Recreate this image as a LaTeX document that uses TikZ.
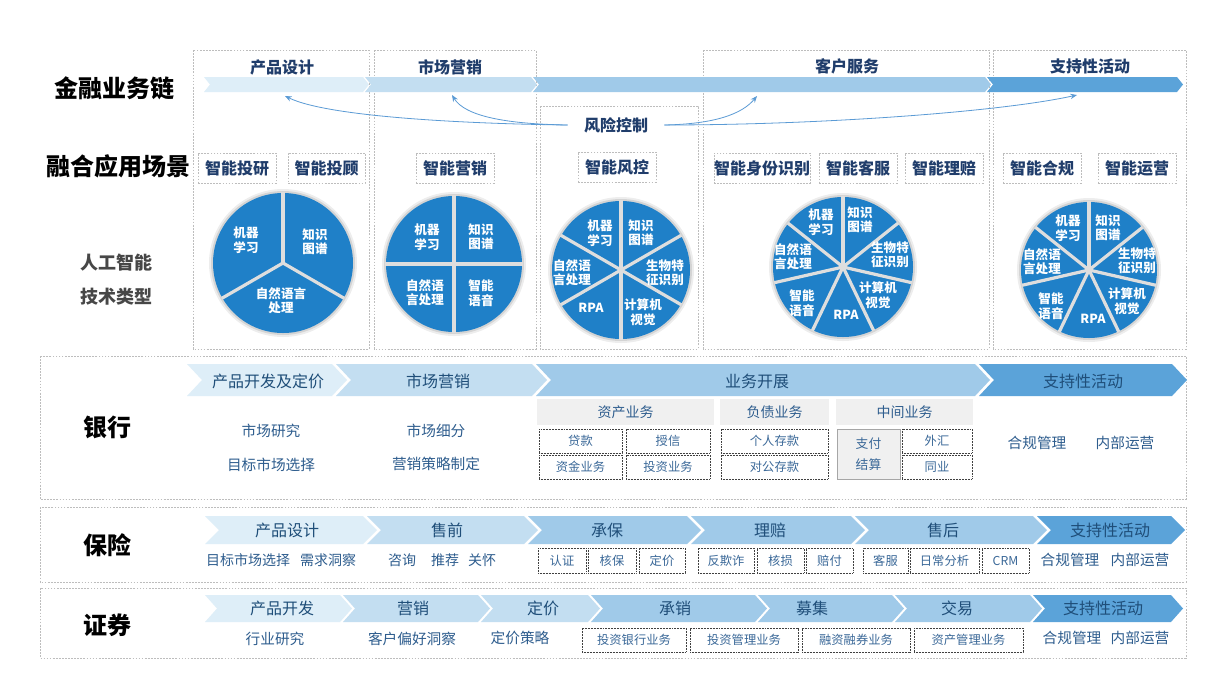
\documentclass[tikz,border=0pt]{standalone}
\usepackage{fontspec}
\setmainfont{Noto Sans CJK SC}
\usetikzlibrary{arrows.meta}
\definecolor{navy}{HTML}{203D6B}
\definecolor{lab}{HTML}{1F4E79}
\definecolor{subt}{HTML}{2E5D8E}
\definecolor{boxt}{HTML}{3A6898}
\definecolor{pieblue}{HTML}{1F80C8}
\definecolor{arr}{HTML}{5B9BD5}
\definecolor{ca}{HTML}{DEEEF8}
\definecolor{cb}{HTML}{C3DEF1}
\definecolor{cc}{HTML}{A0CAE9}
\definecolor{cd}{HTML}{5BA3D9}
\definecolor{dashg}{HTML}{BDBDBD}
\newcommand{\chev}[6]{\fill[#6] (#1,#3) -- ({#2-#5},#3) -- (#2,{(#3+#4)/2}) -- ({#2-#5},#4) -- (#1,#4) -- ({#1+#5},{(#3+#4)/2}) -- cycle;}
\newcommand{\rbox}[7]{\node[#2, minimum width={(#5-#3)*0.75pt}, minimum height={(#6-#4)*0.75pt}] (#1) at ({(#3+#5)/2},{(#4+#6)/2}) {#7};}
\newcommand{\piechart}[4]{%
  \begin{scope}[shift={(#1,#2)}]
    \fill[black,opacity=0.07] (0,0) circle ({#3+4});
    \fill[black,opacity=0.10] (0,0) circle ({#3+2});
    \fill[pieblue] (0,0) circle (#3);
    \foreach \a in {#4} \draw[sep] (0,0) -- ({-\a}:{#3+0.6});
  \end{scope}}
\begin{document}
\begin{tikzpicture}[x=0.75pt,y=-0.75pt,
  biglab/.style={font=\fontsize{18}{20}\selectfont\bfseries, text=black},
  ailab/.style={font=\fontsize{13.5}{16}\selectfont\bfseries, text=black!72},
  toplab/.style={font=\fontsize{12}{14}\selectfont\bfseries, text=navy},
  colbox/.style={draw=dashg, dash pattern=on 1.3pt off 1pt, line width=0.5pt},
  scen/.style={draw=dashg, dash pattern=on 1.3pt off 1pt, line width=0.5pt, fill=white, inner sep=0pt, font=\fontsize{12}{14}\selectfont\bfseries, text=navy},
  sep/.style={draw=black!13, line width=2.4pt},
  pielab/.style={font=\fontsize{9.4}{10.8}\selectfont\bfseries, text=white, align=center, inner sep=0pt},
  rarr/.style={draw=arr, line width=0.6pt, -{Stealth[length=5pt,width=4pt]}},
  secbox/.style={draw=dashg, dash pattern=on 1.3pt off 1pt, line width=0.5pt},
  seclab/.style={font=\fontsize{18}{20}\selectfont\bfseries, text=black},
  chevlab/.style={font=\fontsize{12}{14}\selectfont, text=lab},
  sublab/.style={font=\fontsize{11}{13}\selectfont, text=subt},
  isub/.style={font=\fontsize{10.5}{12}\selectfont, text=subt},
  hdr/.style={fill=black!6, inner sep=0pt, font=\fontsize{10.5}{12}\selectfont, text=subt},
  dbox/.style={draw=black!75, dash pattern=on 0.7pt off 0.45pt, line width=0.7pt, fill=white, inner sep=0pt, font=\fontsize{9.2}{11}\selectfont, text=boxt},
  paybox/.style={draw=black!35, line width=0.6pt, fill=black!6, inner sep=0pt, align=center, font=\fontsize{9.6}{15.5}\selectfont, text=boxt}
]
\useasboundingbox (0,0) rectangle (1229,683);
\fill[white] (0,0) rectangle (1229,683);

% ---------- top part ----------
\node[biglab] (jr) at (115,88) {金融业务链};
\node[biglab] (rh) at (118,166) {融合应用场景};
\node[ailab] (ai1) at (116,263) {人工智能};
\node[ailab] (ai2) at (116,297) {技术类型};

\draw[colbox] (193,50) rectangle (369,349);
\draw[colbox] (374,50) rectangle (536,349);
\draw[colbox] (540,106) rectangle (698,349);
\draw[colbox] (703,50) rectangle (989,349);
\draw[colbox] (993,50) rectangle (1186,349);

\chev{204}{369}{77}{92}{6}{ca}
\chev{365}{537}{77}{92}{6}{cb}
\chev{533}{991}{77}{92}{6}{cc}
\chev{987}{1183}{77}{92}{6}{cd}

\node[toplab] (h1) at (282,67) {产品设计};
\node[toplab] (h2) at (450,67) {市场营销};
\node[toplab] (h3) at (847,66) {客户服务};
\node[toplab] (h4) at (1090,66) {支持性活动};

\node[toplab, inner xsep=12pt] (rc) at (616,125) {风险控制};
\coordinate (t1) at (285,96);
\coordinate (t2) at (452,95);
\coordinate (t3) at (757,96);
\coordinate (t4) at (1077,95);
\draw[rarr] (rc.west) .. controls (480,124) and (330,118) .. (t1);
\draw[rarr] (rc.west) .. controls (505,124) and (465,116) .. (t2);
\draw[rarr] (rc.east) .. controls (715,124) and (742,114) .. (t3);
\draw[rarr] (rc.east) .. controls (820,125) and (1000,112) .. (t4);

\rbox{s1}{scen}{198}{153}{276}{183}{智能投研}
\rbox{s2}{scen}{288}{153}{365}{183}{智能投顾}
\rbox{s3}{scen}{416}{153}{494}{183}{智能营销}
\rbox{s4}{scen}{578}{152}{656}{182}{智能风控}
\rbox{s5}{scen}{714}{153}{810}{183}{智能身份识别}
\rbox{s6}{scen}{819}{153}{897}{183}{智能客服}
\rbox{s7}{scen}{905}{153}{983}{183}{智能理赔}
\rbox{s8}{scen}{1003}{153}{1081}{183}{智能合规}
\rbox{s9}{scen}{1098}{153}{1176}{183}{智能运营}

% pies
\piechart{283}{263}{70}{90,210,330}
\node[pielab] (p1a) at (246,240) {机器\\学习};
\node[pielab] (p1b) at (315,242) {知识\\图谱};
\node[pielab] (p1c) at (281,301) {自然语言\\处理};

\piechart{454}{264}{68}{0,90,180,270}
\node[pielab] (p2a) at (427,237) {机器\\学习};
\node[pielab] (p2b) at (481,237) {知识\\图谱};
\node[pielab] (p2c) at (425,293) {自然语\\言处理};
\node[pielab] (p2d) at (481,293) {智能\\语音};

\piechart{621}{270}{69}{30,90,150,210,270,330}
\node[pielab] (p3a) at (600,233) {机器\\学习};
\node[pielab] (p3b) at (641,233) {知识\\图谱};
\node[pielab] (p3c) at (665,273) {生物特\\征识别};
\node[pielab] (p3d) at (643,312) {计算机\\视觉};
\node[pielab] (p3e) at (591,308) {RPA};
\node[pielab] (p3f) at (572,273) {自然语\\言处理};

\piechart{843}{267}{70}{90,38.57,-12.86,-64.29,-115.71,-167.14,-218.57}
\node[pielab] (p4a) at (821,222) {机器\\学习};
\node[pielab] (p4b) at (860,220) {知识\\图谱};
\node[pielab] (p4c) at (890,255) {生物特\\征识别};
\node[pielab] (p4d) at (878,295) {计算机\\视觉};
\node[pielab] (p4e) at (846,315) {RPA};
\node[pielab] (p4f) at (802,303) {智能\\语音};
\node[pielab] (p4g) at (793,257) {自然语\\言处理};

\piechart{1089}{270}{68}{90,38.57,-12.86,-64.29,-115.71,-167.14,-218.57}
\node[pielab] (p5a) at (1068,228) {机器\\学习};
\node[pielab] (p5b) at (1108,228) {知识\\图谱};
\node[pielab] (p5c) at (1137,261) {生物特\\征识别};
\node[pielab] (p5d) at (1127,301) {计算机\\视觉};
\node[pielab] (p5e) at (1093,319) {RPA};
\node[pielab] (p5f) at (1051,306) {智能\\语音};
\node[pielab] (p5g) at (1042,262) {自然语\\言处理};

% ---------- bank ----------
\draw[secbox] (40,356) rectangle (1186,499);
\node[seclab] (bank) at (107,427) {银行};
\chev{187}{347}{364}{396}{15}{ca}
\chev{336}{547}{364}{396}{15}{cb}
\chev{536}{990}{364}{396}{15}{cc}
\chev{979}{1187}{364}{396}{15}{cd}
\node[chevlab] (b1) at (268,381) {产品开发及定价};
\node[chevlab] (b2) at (438,381) {市场营销};
\node[chevlab] (b3) at (757,381) {业务开展};
\node[chevlab] (b4) at (1083,381) {支持性活动};
\node[sublab] (b1a) at (271,431) {市场研究};
\node[sublab] (b1b) at (271,465) {目标市场选择};
\node[sublab] (b2a) at (436,431) {市场细分};
\node[sublab] (b2b) at (436,464) {营销策略制定};
\rbox{hz}{hdr}{537}{399}{714}{425}{资产业务}
\rbox{hf}{hdr}{720}{399}{829}{425}{负债业务}
\rbox{hm}{hdr}{836}{399}{973}{425}{中间业务}
\rbox{bx1}{dbox}{539}{429}{622}{453}{贷款}
\rbox{bx2}{dbox}{626}{429}{710}{453}{授信}
\rbox{bx3}{dbox}{539}{455}{622}{479}{资金业务}
\rbox{bx4}{dbox}{626}{455}{710}{479}{投资业务}
\rbox{bx5}{dbox}{721}{429}{828}{453}{个人存款}
\rbox{bx6}{dbox}{721}{455}{828}{479}{对公存款}
\rbox{bx7}{paybox}{837}{429}{900}{479}{支付\\结算}
\rbox{bx8}{dbox}{902}{429}{972}{453}{外汇}
\rbox{bx9}{dbox}{902}{455}{972}{479}{同业}
\node[sublab] (b4a) at (1037,443) {合规管理};
\node[sublab] (b4b) at (1125,443) {内部运营};

% ---------- insurance ----------
\draw[secbox] (40,507) rectangle (1186,582);
\node[seclab] (ins) at (107,545) {保险};
\chev{205}{377}{516}{544}{14}{ca}
\chev{367}{538}{516}{544}{14}{cb}
\chev{528}{701}{516}{544}{14}{cc}
\chev{691}{865}{516}{544}{14}{cc}
\chev{855}{1047}{516}{544}{14}{cc}
\chev{1037}{1185}{516}{544}{14}{cd}
\node[chevlab] (i1) at (287,530) {产品设计};
\node[chevlab] (i2) at (447,530) {售前};
\node[chevlab] (i3) at (607,530) {承保};
\node[chevlab] (i4) at (770,530) {理赔};
\node[chevlab] (i5) at (943,530) {售后};
\node[chevlab] (i6) at (1110,530) {支持性活动};
\node[isub] (i1a) at (248,560) {目标市场选择};
\node[isub] (i1b) at (328,560) {需求洞察};
\node[isub] (i2a) at (402,560) {咨询};
\node[isub] (i2b) at (445,560) {推荐};
\node[isub] (i2c) at (482,560) {关怀};
\rbox{ib1}{dbox}{538}{548}{586}{573}{认证}
\rbox{ib2}{dbox}{588}{548}{636}{573}{核保}
\rbox{ib3}{dbox}{639}{548}{685}{573}{定价}
\rbox{ib4}{dbox}{698}{548}{754}{573}{反欺诈}
\rbox{ib5}{dbox}{757}{548}{804}{573}{核损}
\rbox{ib6}{dbox}{806}{548}{853}{573}{赔付}
\rbox{ib7}{dbox}{863}{548}{908}{573}{客服}
\rbox{ib8}{dbox}{910}{548}{979}{573}{日常分析}
\rbox{ib9}{dbox}{982}{548}{1029}{573}{CRM}
\node[sublab] (i6a) at (1070,560) {合规管理};
\node[sublab] (i6b) at (1140,560) {内部运营};

% ---------- securities ----------
\draw[secbox] (40,588) rectangle (1186,658);
\node[seclab] (sec) at (107,625) {证券};
\chev{205}{352}{595}{622}{12}{ca}
\chev{343}{490}{595}{622}{12}{cb}
\chev{481}{600}{595}{622}{12}{cb}
\chev{591}{767}{595}{622}{12}{cc}
\chev{758}{904}{595}{622}{12}{cc}
\chev{895}{1042}{595}{622}{12}{cc}
\chev{1033}{1183}{595}{622}{12}{cd}
\node[chevlab] (z1) at (282,608) {产品开发};
\node[chevlab] (z2) at (413,608) {营销};
\node[chevlab] (z3) at (543,608) {定价};
\node[chevlab] (z4) at (675,608) {承销};
\node[chevlab] (z5) at (812,608) {募集};
\node[chevlab] (z6) at (957,608) {交易};
\node[chevlab] (z7) at (1103,608) {支持性活动};
\node[sublab] (z1a) at (275,639) {行业研究};
\node[sublab] (z2a) at (412,639) {客户偏好洞察};
\node[sublab] (z3a) at (520,638) {定价策略};
\rbox{zb1}{dbox}{582}{628}{686}{652}{投资银行业务}
\rbox{zb2}{dbox}{690}{628}{798}{652}{投资管理业务}
\rbox{zb3}{dbox}{802}{628}{910}{652}{融资融券业务}
\rbox{zb4}{dbox}{914}{628}{1023}{652}{资产管理业务}
\node[sublab] (z7a) at (1072,638) {合规管理};
\node[sublab] (z7b) at (1140,638) {内部运营};
\end{tikzpicture}
\end{document}
